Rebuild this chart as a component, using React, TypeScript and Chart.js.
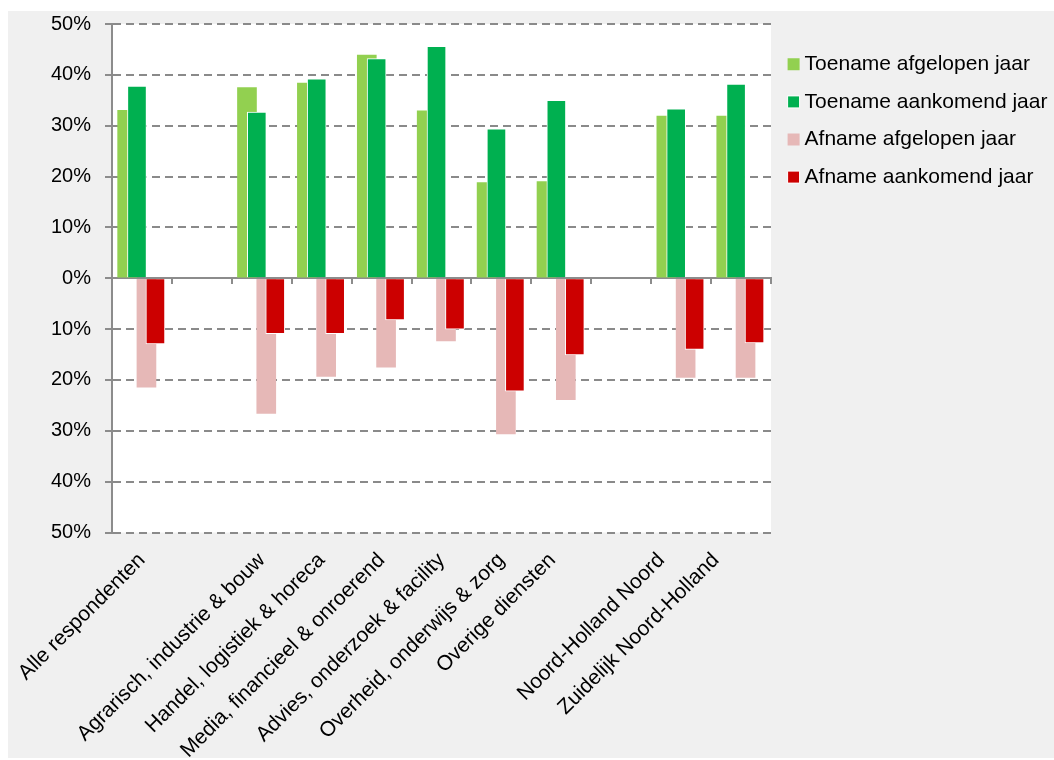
import React, { useEffect, useRef } from "react";
import { Chart, registerables } from "chart.js";

Chart.register(...registerables);

// Sector / region categories (empty strings leave a gap between groups)
const categories = [
  "Alle respondenten",
  "",
  "Agrarisch, industrie & bouw",
  "Handel, logistiek & horeca",
  "Media, financieel & onroerend",
  "Advies, onderzoek & facility",
  "Overheid, onderwijs & zorg",
  "Overige diensten",
  "",
  "Noord-Holland Noord",
  "Zuidelijk Noord-Holland",
];

// Share of respondents (%) — increases are positive, decreases negative
const toenameAfgelopen = [33.0, null, 37.5, 38.4, 43.9, 32.9, 18.8, 19.0, null, 31.9, 31.9];
const toenameAankomend = [37.8, null, 32.7, 39.2, 43.2, 45.6, 29.4, 35.0, null, 33.3, 38.2];
const afnameAfgelopen = [-21.4, null, -26.6, -19.3, -17.5, -12.3, -30.6, -23.9, null, -19.5, -19.5];
const afnameAankomend = [-12.9, null, -10.9, -10.9, -8.2, -10.0, -22.2, -15.1, null, -14.0, -12.7];

const seriesLabels = [
  "Toename afgelopen jaar",
  "Toename aankomend jaar",
  "Afname afgelopen jaar",
  "Afname aankomend jaar",
];

const FONT = '"Liberation Sans", Arial, Helvetica, sans-serif';
const GRID = "#8a8a8a";
const AXIS = "#8c8c8c";

// Horizontal offset of each series inside its category (in category units),
// so that neighbouring bars overlap like an Excel clustered chart.
const shifts = [-0.247, -0.083, 0.075, 0.225];

// Small horizontal nudge of the rotated category labels (category units)
const labelNudge = [0, 0, 0, 0, 0, 0, 0, -0.15, 0, -0.33, -0.42];

const toPoints = (values: (number | null)[], shift: number) =>
  values.flatMap((v, i) => (v === null ? [] : [{ x: i + shift, y: v }]));

const plotBackground = {
  id: "plotBackground",
  beforeDraw(chart: any) {
    const { ctx, chartArea: a } = chart;
    ctx.save();
    ctx.fillStyle = "#ffffff";
    ctx.fillRect(a.left, a.top, a.right - a.left, a.bottom - a.top);
    ctx.restore();
  },
};

export default function App() {
  const ref = useRef<HTMLCanvasElement>(null);

  useEffect(() => {
    const datasets: any[] = [
      {
        label: seriesLabels[0],
        data: toPoints(toenameAfgelopen, shifts[0]),
        backgroundColor: "#92D050",
        borderWidth: 0,
        order: 1,
      },
      {
        label: seriesLabels[1],
        data: toPoints(toenameAankomend, shifts[1]),
        backgroundColor: "#00B050",
        borderColor: "#ffffff",
        borderWidth: 1,
        order: 0,
      },
      {
        label: seriesLabels[2],
        data: toPoints(afnameAfgelopen, shifts[2]),
        backgroundColor: "#E6B8B7",
        borderWidth: 0,
        order: 1,
      },
      {
        label: seriesLabels[3],
        data: toPoints(afnameAankomend, shifts[3]),
        backgroundColor: "#CC0000",
        borderColor: "#ffffff",
        borderWidth: 1,
        order: 0,
      },
    ].map((d) => ({ ...d, xAxisID: "xb", yAxisID: "y" }));

    const chart = new Chart(ref.current as HTMLCanvasElement, {
      type: "bar",
      data: { labels: categories, datasets },
      plugins: [plotBackground],
      options: {
        animation: false,
        responsive: false,
        devicePixelRatio: 1,
        layout: { padding: { top: 13, left: 0, right: 0, bottom: 0 } },
        datasets: { bar: { grouped: false, barThickness: 19 } } as any,
        scales: {
          xb: {
            type: "linear",
            display: false,
            min: -0.5,
            max: 10.5,
            offset: false,
          },
          // category names, rotated, below the plot
          x: {
            type: "linear",
            position: "bottom",
            min: -0.5,
            max: 10.5,
            offset: false,
            afterBuildTicks: (s: any) => {
              s.ticks = categories.map((_, i) => ({ value: i + labelNudge[i] }));
            },
            grid: { display: false, drawTicks: false },
            border: { display: false },
            ticks: {
              autoSkip: false,
              minRotation: 45,
              maxRotation: 45,
              padding: 15.5,
              color: "#000",
              font: { family: FONT, size: 21 },
              callback: (_v: any, i: number) => categories[i],
            },
            afterFit: (s: any) => {
              s.height = 225.5;
              s.paddingLeft = 0;
              s.paddingRight = 0;
            },
          },
          // axis line through 0% with tick marks between categories
          x0: {
            type: "category",
            position: { y: 0 },
            offset: true,
            grid: {
              display: true,
              drawOnChartArea: false,
              drawTicks: true,
              tickLength: 5,
              offset: true,
              color: AXIS,
              tickColor: AXIS,
              tickWidth: 2,
              lineWidth: 2,
            },
            border: { display: true, color: AXIS, width: 2 },
            ticks: { display: false },
            afterFit: (s: any) => {
              s.height = 0;
              s.paddingLeft = 0;
              s.paddingRight = 0;
            },
          },
          y: {
            type: "linear",
            position: "left",
            min: -50,
            max: 50,
            ticks: {
              stepSize: 10,
              padding: 14,
              color: "#000",
              font: { family: FONT, size: 20 },
              callback: (v: any) => Math.abs(Number(v)) + "%",
            },
            grid: {
              color: GRID,
              lineWidth: 2,
              tickLength: 7,
              tickColor: AXIS,
              tickWidth: 2,
              tickBorderDash: [],
            },
            border: { display: true, color: AXIS, width: 2, dash: [8, 5] },
            afterFit: (s: any) => {
              s.width = 104;
              s.paddingTop = 0;
              s.paddingBottom = 0;
            },
          },
          // narrow spacer between the plot and the legend
          yr: {
            type: "linear",
            position: "right",
            grid: { display: false, drawTicks: false },
            border: { display: false },
            ticks: { display: false },
            afterFit: (s: any) => {
              s.width = 5.5;
              s.paddingTop = 0;
              s.paddingBottom = 0;
            },
          },
        } as any,
        plugins: {
          legend: {
            position: "right",
            align: "start",
            maxWidth: 277.5,
            title: { display: true, text: "", font: { size: 11 }, padding: 0 },
            labels: {
              usePointStyle: true,
              pointStyle: "rect",
              boxWidth: 1,
              boxHeight: 12,
              padding: 16.6,
              color: "#000",
              font: { family: FONT, size: 21 },
              sort: (a: any, b: any) => a.datasetIndex - b.datasetIndex,
            },
          } as any,
          tooltip: { enabled: false },
        },
      },
    });

    return () => chart.destroy();
  }, []);

  return (
    <div
      style={{
        position: "absolute",
        left: 8,
        top: 11,
        width: 1046,
        height: 747,
        background: "#f0f0f0",
      }}
    >
      <canvas ref={ref} width={1046} height={747} style={{ display: "block" }} />
    </div>
  );
}
